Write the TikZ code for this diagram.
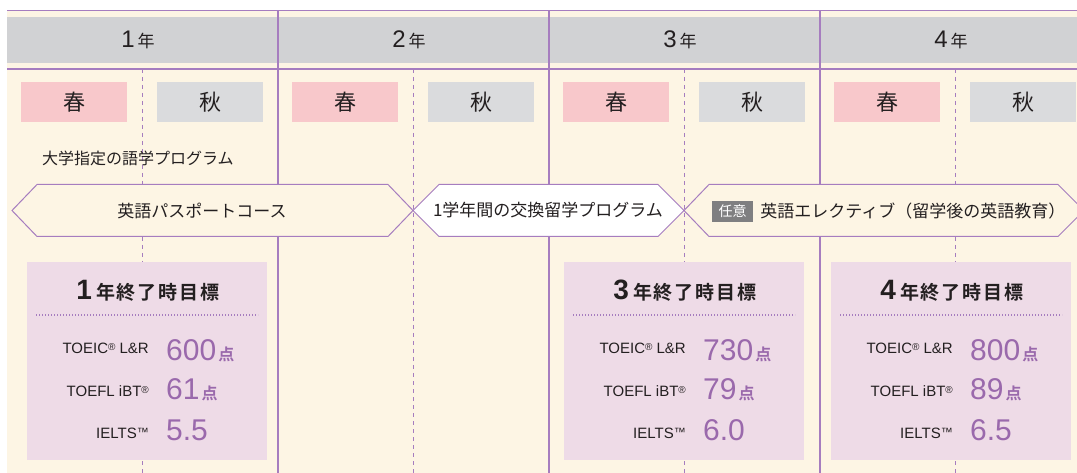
\documentclass[tikz,border=0pt]{standalone}
\usepackage{fontspec}
\setmainfont{Liberation Sans}
\newfontfamily\jpfont{Noto Sans CJK JP}
\newfontfamily\jpboldfont{Noto Sans CJK JP Bold}
\newfontfamily\jptitle[LetterSpace=10]{Noto Sans CJK JP Bold}
\usetikzlibrary{positioning}

\definecolor{cream}{HTML}{FDF5E4}
\definecolor{hdrgray}{HTML}{D1D2D4}
\definecolor{springpink}{HTML}{F8C8CB}
\definecolor{autumngray}{HTML}{DADBDD}
\definecolor{lineviolet}{HTML}{A67DBF}
\definecolor{scoreviolet}{HTML}{9A69AC}
\definecolor{goalfill}{HTML}{EEDBE7}
\definecolor{badgegray}{HTML}{7F7F81}
\definecolor{textgray}{HTML}{231F20}

\newcommand{\regmark}{\raisebox{3.5pt}{\fontsize{10}{10}\selectfont ®}}
\newcommand{\tmmark}{\raisebox{1.5pt}{\fontsize{12}{12}\selectfont ™}}
\newcommand{\scoreunit}{\hspace{2pt}{\jpboldfont\fontsize{16}{16}\selectfont 点}}

\begin{document}
\begin{tikzpicture}[x=1pt, y=-1pt,
  rule/.style={draw=lineviolet, line width=1.1pt},
  halfrule/.style={draw=lineviolet, line width=1.1pt, dash pattern=on 4pt off 4pt},
  dotrule/.style={draw=lineviolet, line width=1.2pt, dash pattern=on 1.2pt off 1.8pt},
  yearlabel/.style={inner sep=0pt, text=textgray},
  seasonbox/.style={minimum width=106pt, minimum height=40pt, inner sep=0pt, text=textgray, font=\jpfont\fontsize{22}{22}\selectfont},
  banner/.style={draw=lineviolet, line width=1pt},
  bannertext/.style={inner sep=0pt, text=textgray, font=\jpfont\fontsize{17}{17}\selectfont},
  badge/.style={fill=badgegray, text=white, minimum width=41pt, minimum height=21pt, inner sep=0pt, font=\jpfont\fontsize{14}{14}\selectfont},
  goalbox/.style={fill=goalfill, minimum width=240pt, minimum height=198pt, inner sep=0pt},
  goaltitle/.style={inner sep=0pt, text=textgray},
  scorelabel/.style={anchor=base east, inner sep=0pt, text=textgray, font=\fontsize{15}{15}\selectfont},
  scorenum/.style={anchor=base west, inner sep=0pt, text=scoreviolet, font=\fontsize{30}{30}\selectfont},
]
  % page: white margin on top and left, cream sheet
  \useasboundingbox (0,0) rectangle (1077,473);
  \fill[white] (0,0) rectangle (1077,473);
  \fill[cream] (7,10.5) rectangle (1077,473);
  \fill[hdrgray] (7,17) rectangle (1077,63);
  \draw[rule] (7,10.5) -- (1077,10.5);
  \draw[rule] (7,69) -- (1077,69);

  % four years, 271pt each; spring / autumn split by a dashed line
  \foreach \i/\yr in {0/1,1/2,2/3,3/4} {
    \pgfmathsetmacro{\xl}{7+271*\i}
    \draw[rule] ({\xl+271},10.5) -- ({\xl+271},473);
    \draw[halfrule] ({\xl+135.5},69) -- ({\xl+135.5},473);
    \node[yearlabel] (year\yr) at ({\xl+131},40)
      {{\fontsize{24}{24}\selectfont\yr}\hspace{3pt}{\jpfont\fontsize{17}{17}\selectfont 年}};
    \node[seasonbox, fill=springpink] (spring\yr) at ({\xl+67},102) {春};
    \node[seasonbox, fill=autumngray] (autumn\yr) at ({\xl+203},102) {秋};
  }

  \node[anchor=west, inner sep=0pt, text=textgray, font=\jpfont\fontsize{16}{16}\selectfont]
    (langprog) at (42,158) {大学指定の語学プログラム};

  % programme banners
  \draw[banner, fill=cream] (12,210.5) -- (37,184.5) -- (388,184.5) -- (413,210.5)
    -- (388,236.5) -- (37,236.5) -- cycle;
  \node[bannertext] (passport) at (202,210.5) {英語パスポートコース};
  \draw[banner, fill=white] (413,210.5) -- (439,184.5) -- (658,184.5) -- (684,210.5)
    -- (658,236.5) -- (439,236.5) -- cycle;
  \node[bannertext] (exchange) at (548,210.5) {1学年間の交換留学プログラム};
  \draw[banner, fill=cream] (684,210.5) -- (709,184.5) -- (1058,184.5) -- (1084,210.5)
    -- (1058,236.5) -- (709,236.5) -- cycle;
  \node[badge] (optional) at (732.5,211.5) {任意};
  \node[bannertext, right=7pt of optional] (elective) {英語エレクティブ（留学後の英語教育）};

  % targets at the end of years 1, 3 and 4
  \foreach \xl/\yr/\toeic/\toefl/\ielts in {27/1/600/61/5.5, 564/3/730/79/6.0, 831/4/800/89/6.5} {
    \node[goalbox] (goal\yr) at ({\xl+120},361) {};
    \node[goaltitle] (goaltitle\yr) at ({\xl+121},291)
      {{\fontsize{28}{28}\selectfont\bfseries\yr}\hspace{4pt}{\jptitle\fontsize{19}{19}\selectfont 年終了時目標}};
    \draw[dotrule] ({\xl+9},315) -- ({\xl+231},315);
    \node[scorelabel] (toeiclabel\yr) at ({\xl+122},353.5) {TOEIC\regmark\ L\&R};
    \node[scorenum] (toeic\yr) at ({\xl+139},360) {\toeic\scoreunit};
    \node[scorelabel] (toefllabel\yr) at ({\xl+122},396.7) {TOEFL iBT\regmark};
    \node[scorenum] (toefl\yr) at ({\xl+139},399) {\toefl\scoreunit};
    \node[scorelabel] (ieltslabel\yr) at ({\xl+122},438.3) {IELTS\tmmark};
    \node[scorenum] (ielts\yr) at ({\xl+139},440) {\ielts};
  }
\end{tikzpicture}
\end{document}
